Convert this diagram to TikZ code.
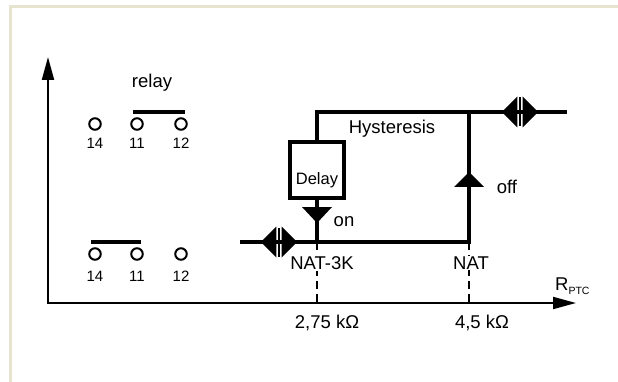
\documentclass[tikz,border=0pt]{standalone}
\usepackage{fontspec}
\setmainfont{Liberation Sans}
\usetikzlibrary{arrows.meta,calc}
\definecolor{framecol}{RGB}{230,227,206}
\begin{document}
\begin{tikzpicture}[x=1pt,y=-1pt,
  wire/.style={line width=3.4pt},
  axis/.style={line width=2pt},
  guide/.style={line width=1.2pt, dash pattern=on 8pt off 5pt},
  lbl/.style={font=\fontsize{18.5}{18.5}\selectfont, inner sep=0pt},
  dly/.style={font=\fontsize{16.5}{16.5}\selectfont, inner sep=0pt},
  num/.style={font=\fontsize{15}{15}\selectfont, inner sep=0pt},
  contact/.style={circle, draw, line width=2pt, minimum size=11.5pt, inner sep=0pt},
  bar/.style={line width=4pt},
  frame/.style={draw=framecol, line width=3pt},
  delaybox/.style={draw, line width=3.6pt, minimum width=54pt, minimum height=56pt, inner sep=0pt},
  dblarrow/.pic={
    \fill (-2.6,-15.5) -- (-2.6,15.5) -- (-18,0) -- cycle;
    \fill (2.6,-15.5) -- (2.6,15.5) -- (18,0) -- cycle;
    \fill (-1.1,-14.5) rectangle (1.1,14.5);
  },
]
\useasboundingbox (0,0) rectangle (618,382);
\fill[white] (0,0) rectangle (618,382);
% frame
\draw[frame] (10,382) -- (10,6.5) -- (618,6.5);

% axes
\coordinate (O) at (48,303);
\coordinate (Ytip) at (48,57);
\coordinate (Xtip) at (576,303);
\draw[axis, {Triangle[length=23pt,width=12pt]}-{Triangle[length=23pt,width=12pt]}] (Ytip) -- (O) -- (Xtip);
\node[lbl, anchor=base west] (rptc) at (555,290) {R{\fontsize{10.5}{10.5}\selectfont\raisebox{-4pt}{PTC}}};

% relay contacts
\node[lbl] (relay) at (152,83) {relay};
\node[contact] (c14a) at (95,124) {};
\node[contact] (c11a) at (137,124) {};
\node[contact] (c12a) at (181,124) {};
\node[num] (n14a) at (95,143) {14};
\node[num] (n11a) at (137,143) {11};
\node[num] (n12a) at (181,143) {12};
\draw[bar] ($(c11a)+(-4,-12)$) -- ($(c12a)+(4,-12)$);

\node[contact] (c14b) at (95,254) {};
\node[contact] (c11b) at (137,254) {};
\node[contact] (c12b) at (181,254) {};
\node[num] (n14b) at (95,276) {14};
\node[num] (n11b) at (137,276) {11};
\node[num] (n12b) at (181,276) {12};
\draw[bar] ($(c14b)+(-4,-12)$) -- ($(c11b)+(4,-12)$);

% circuit
\coordinate (Lstart) at (240,242);
\coordinate (J1) at (317,242);
\coordinate (J2) at (469,242);
\coordinate (T2) at (469,112);
\coordinate (Tend) at (567,112);
\node[delaybox] (delay) at (317,170) {};
\node[dly] (dlytxt) at (317,180) {Delay};

\draw[wire] (Lstart) -| (T2);
\draw[wire] (delay.north) |- (Tend);
\draw[wire] (delay.south) -- (J1);

% direction triangles
\fill (302,207) -- (332,207) -- (317,223) -- cycle;
\fill (454,187) -- (484,187) -- (469,172) -- cycle;

% double arrow symbols
\pic at (279,242) {dblarrow};
\pic at (520,112) {dblarrow};

% dashed guides
\coordinate (X1) at (317,303);
\coordinate (X2) at (469,303);
\draw[guide] (J1) -- (X1);
\draw[guide] (J2) -- (X2);

% labels
\node[lbl] (hyst) at (392,129) {Hysteresis};
\node[lbl] (on) at (344,222) {on};
\node[lbl] (off) at (507,187) {off};
\node[lbl, fill=white, inner sep=1pt] (nat3k) at (322,263) {NAT-3K};
\node[lbl, fill=white, inner sep=1pt] (nat) at (471,263) {NAT};
\node[lbl] (k1) at (327,323) {2,75 kΩ};
\node[lbl] (k2) at (482,323) {4,5 kΩ};
\end{tikzpicture}
\end{document}
